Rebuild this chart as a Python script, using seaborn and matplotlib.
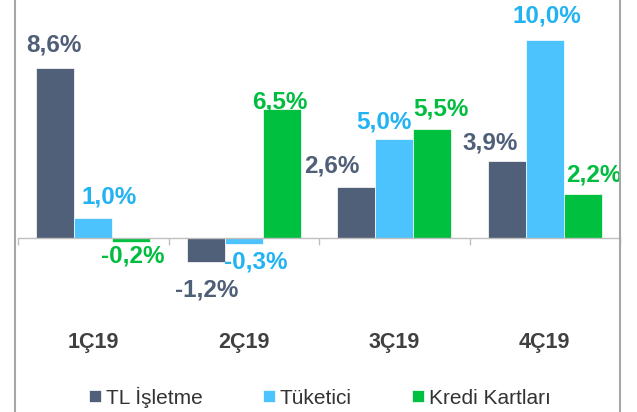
import pandas as pd
import matplotlib.pyplot as plt
from matplotlib.lines import Line2D
import seaborn as sns

# --- Data ---
quarters = ["1Ç19", "2Ç19", "3Ç19", "4Ç19"]
series = ["TL İşletme", "Tüketici", "Kredi Kartları"]
tl_isletme = [8.6, -1.2, 2.6, 3.9]
tuketici = [1.0, -0.3, 5.0, 10.0]
kredi_kartlari = [-0.2, 6.5, 5.5, 2.2]

# --- Style ---
bar_colors = ["#506079", "#4dc3fd", "#00c040"]
label_colors = ["#4f5f78", "#22b3f2", "#00bd3f"]
# label offsets in pixels (dx, dy) from the end of each bar
label_offsets = [
    [(-1, 16), (1, -17), (-24, 14), (-16, 11)],
    [(16, 15), (12, -7), (-10, 10), (2, 17)],
    [(1, -3), (-2, 1), (9, 14), (11, 13)],
]
PX_PER_UNIT = 19.8
ZERO_Y = 238
W, H = 637, 412

df = pd.DataFrame({
    "quarter": quarters * 3,
    "series": [s for s in series for _ in quarters],
    "value": tl_isletme + tuketici + kredi_kartlari,
})

sns.set_theme(style="white")
plt.rcParams["font.family"] = ["Liberation Sans", "DejaVu Sans"]

fig = plt.figure(figsize=(W / 100, H / 100), dpi=100)
ax = fig.add_axes([18 / W, 0, (620 - 18) / W, 1])

sns.barplot(data=df, x="quarter", y="value", hue="series", order=quarters,
            hue_order=series, palette=bar_colors, width=0.76, saturation=1,
            errorbar=None, edgecolor="white", linewidth=0.5, legend=False, ax=ax)

ax.set_xlim(-0.5, len(quarters) - 0.5)
ax.set_ylim(-(H - ZERO_Y) / PX_PER_UNIT, ZERO_Y / PX_PER_UNIT)

# value labels
for k, cont in enumerate(ax.containers):
    for j, bar in enumerate(cont.patches):
        val = bar.get_height()
        dx, dy = label_offsets[k][j]
        ax.annotate(f"{val:.1f}%".replace(".", ","),
                    xy=(bar.get_x() + bar.get_width() / 2, val),
                    xytext=(dx, dy), textcoords="offset pixels",
                    ha="center", va="baseline" if val >= 0 else "top",
                    fontsize=17.5, fontweight="bold", color=label_colors[k])

# axis line at zero with boundary ticks
for s in ["top", "right", "left"]:
    ax.spines[s].set_visible(False)
ax.spines["bottom"].set_position(("data", 0))
ax.spines["bottom"].set_color("#bfbfbf")
ax.spines["bottom"].set_linewidth(1)
ax.set_xticks([i - 0.5 for i in range(len(quarters) + 1)])
ax.tick_params(axis="x", length=5, width=1, color="#bfbfbf", direction="out",
               labelbottom=False, bottom=True)
ax.set_yticks([])
ax.set_xlabel("")
ax.set_ylabel("")

# category labels
for i, q in enumerate(quarters):
    ax.text(i, 1 - 348 / H, q, transform=ax.get_xaxis_transform(),
            ha="center", va="baseline", fontsize=15.5, fontweight="bold",
            color="#404040")

ax.legend(ax.containers, series, loc="center",
          bbox_to_anchor=(320 / W, 1 - 397 / H), bbox_transform=fig.transFigure,
          ncol=3, frameon=False, fontsize=15, handlelength=0.55,
          handleheight=0.55, handletextpad=0.25, columnspacing=2.9,
          labelcolor="#333333")

# frame edges
for xp in [14.5, 619.5]:
    fig.add_artist(Line2D([xp / W, xp / W], [0, 1], transform=fig.transFigure,
                          color="#a6a6a6", linewidth=1.5))

fig.savefig("out.png", dpi=100)
